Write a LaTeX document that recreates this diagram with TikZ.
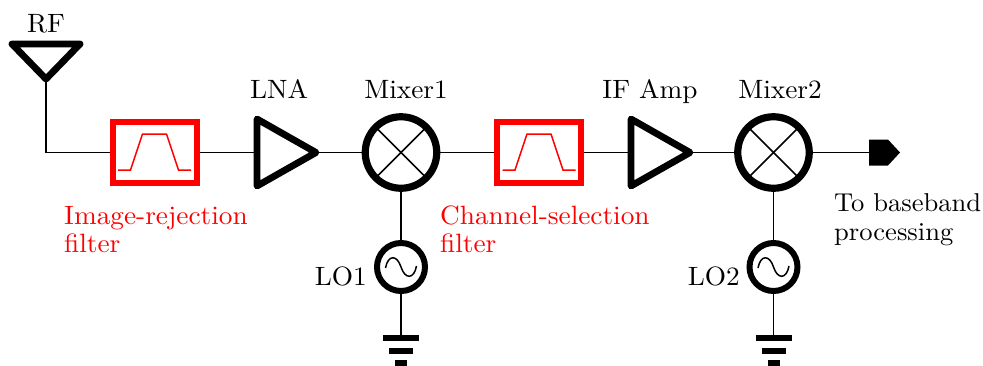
\documentclass[tikz,border=0pt]{standalone}
\usepackage{fontspec}
\setmainfont{lmroman10-regular}[Extension=.otf,FakeStretch=1.03]
\definecolor{fred}{RGB}{255,0,0}
\tikzset{
  wire/.style={line width=1.5pt,line cap=butt},
  thick sym/.style={line width=6.8pt,line join=round,line cap=round},
  mixer/.style={circle,draw,line width=7.2pt,minimum size=71.5pt,inner sep=0pt,outer sep=3.6pt},
  osc/.style={circle,draw,line width=6pt,minimum size=48pt,inner sep=0pt,outer sep=3pt},
  filt/.style={rectangle,draw=fred,line width=6pt,minimum width=84pt,minimum height=61pt,inner sep=0pt,outer sep=3pt},
  label/.style={anchor=base,font=\fontsize{26.5}{30}\selectfont,inner sep=0pt,text=black},
  redlabel/.style={label,anchor=base west,text=fred},
  gnd/.style={line width=6pt,line cap=butt},
  pass/.style={draw=fred,line width=1.5pt,line join=miter}
}
\begin{document}
\begin{tikzpicture}[x=1pt,y=-1pt]
\useasboundingbox (0,0) rectangle (983,365);
% named points
\coordinate (antL) at (12,44);
\coordinate (antR) at (80,44);
\coordinate (antT) at (46,79);
\coordinate (bend) at (46,152.5);
\coordinate (lnaA) at (257,119);
\coordinate (lnaB) at (257,186);
\coordinate (lnaT) at (316,152.5);
\coordinate (ifaA) at (631,119);
\coordinate (ifaB) at (631,186);
\coordinate (ifaT) at (690,152.5);
\coordinate (gnd1) at (401,338);
\coordinate (gnd2) at (773.5,338);
\coordinate (portIn) at (869,152.5);
% nodes
\node[filt] (f1) at (154.5,152.5) {};
\node[filt] (f2) at (539,152.5) {};
\node[mixer] (m1) at (401,152.5) {};
\node[mixer] (m2) at (773.5,152.5) {};
\node[osc] (o1) at (401,267) {};
\node[osc] (o2) at (773.5,267) {};
% connectors
\draw[wire] (antT) -- (bend) -- (f1.west);
\draw[wire] (f1.east) -- (lnaA |- lnaT);
\draw[wire] (lnaT) -- (m1.west);
\draw[wire] (m1.east) -- (f2.west);
\draw[wire] (f2.east) -- (ifaA |- ifaT);
\draw[wire] (ifaT) -- (m2.west);
\draw[wire] (m2.east) -- (portIn);
\draw[wire] (m1.south) -- (o1.north);
\draw[wire] (m2.south) -- (o2.north);
\draw[wire] (o1.south) -- (gnd1);
\draw[wire] (o2.south) -- (gnd2);
% antenna, amps
\draw[thick sym] (antL) -- (antR) -- (antT) -- cycle;
\draw[thick sym] (lnaA) -- (lnaT) -- (lnaB) -- cycle;
\draw[thick sym] (ifaA) -- (ifaT) -- (ifaB) -- cycle;
% mixer crosses
\foreach \m in {m1,m2}{
  \draw[wire] (\m.center) +(-24.5,-24.5) -- +(24.5,24.5);
  \draw[wire] (\m.center) +(-24.5,24.5) -- +(24.5,-24.5);
}
% sine
\foreach \o in {o1,o2}{
  \begin{scope}[shift={(\o.center)}]
    \draw[wire] (-15.5,1) .. controls (-13,-12.5) and (-4,-12.5) .. (0,0)
       .. controls (4,12.5) and (13,12.5) .. (15.5,-1);
  \end{scope}
}
% pass bands
\foreach \f in {f1,f2}{
  \draw[pass] (\f.center) +(-36.5,17.5) -- +(-24,17.5) -- +(-12,-18.5) -- +(12,-18.5) -- +(24,17.5) -- +(36.5,17.5);
}
% grounds
\foreach \g in {gnd1,gnd2}{
  \draw[gnd] (\g) +(-18,0) -- +(18,0);
  \draw[gnd] (\g) +(-12,13) -- +(12,13);
  \draw[gnd] (\g) +(-6,24.5) -- +(6,24.5);
}
% port
\fill (portIn) +(0,-13) -- +(19,-13) -- +(31,0) -- +(19,13) -- +(0,13) -- cycle;
% labels
\node[label] (tRF) at (46,32) {RF};
\node[label] (tLNA) at (279,98) {LNA};
\node[label] (tM1) at (406,98) {Mixer1};
\node[label] (tIF) at (650,98) {IF Amp};
\node[label] (tM2) at (780,98) {Mixer2};
\node[label,anchor=base east] (tL1) at (367,285) {LO1};
\node[label,anchor=base east] (tL2) at (740,285) {LO2};
\node[redlabel] (tI1) at (64,224) {Image-rejection};
\node[redlabel] (tI2) at (64,252) {filter};
\node[redlabel] (tC1) at (440,224) {Channel-selection};
\node[redlabel] (tC2) at (440,252) {filter};
\node[label,anchor=base west,font=\fontsize{25.8}{30}\selectfont] (tB1) at (834,211) {To baseband};
\node[label,anchor=base west,font=\fontsize{25.8}{30}\selectfont] (tB2) at (834,240) {processing};
\end{tikzpicture}
\end{document}
